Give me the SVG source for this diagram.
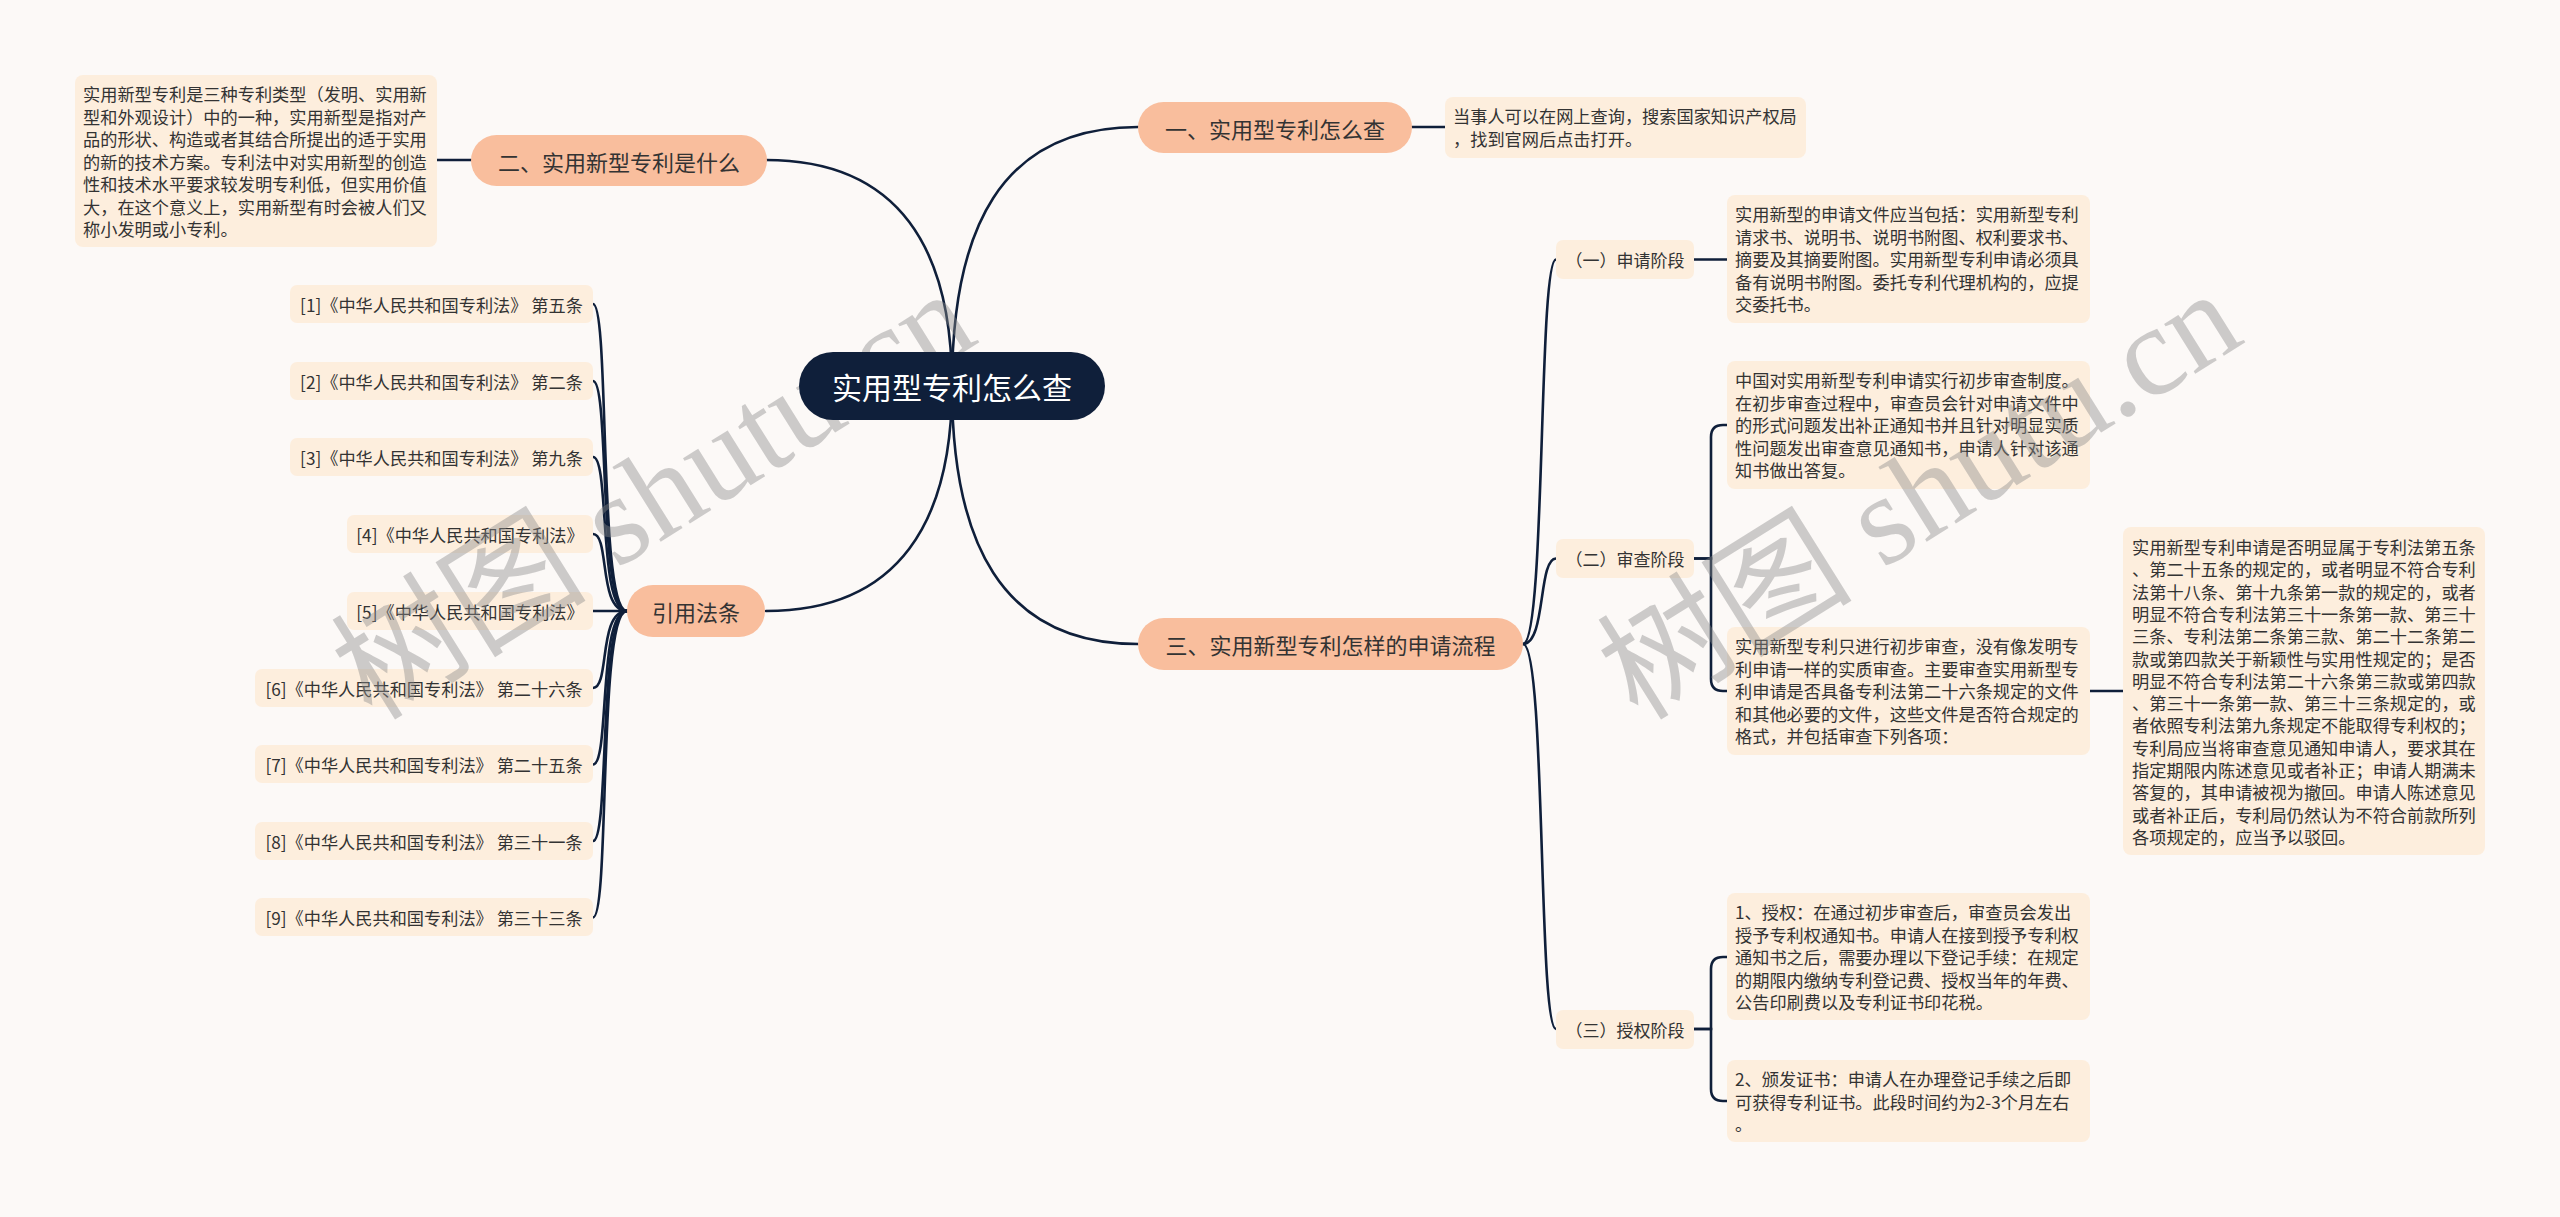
<svg xmlns="http://www.w3.org/2000/svg" width="2560" height="1217" viewBox="0 0 2560 1217">
<style>
.bg{fill:#fcf9f7}
.main{fill:#f9be9d}
.box{fill:#fdeedd}
.center{fill:#0f1f3a}
.ln{fill:none;stroke:#0f1f3a;stroke-width:2.6;stroke-linecap:round}
text{font-family:"Noto Sans CJK SC","Noto Sans",sans-serif;fill:#333}
.t-main{font-size:22px;text-anchor:middle;dominant-baseline:central}
.t-center{font-size:30px;fill:#ffffff;text-anchor:middle;dominant-baseline:central}
.t-sub{font-size:17px;text-anchor:middle;dominant-baseline:central}
.t-cite{font-size:17.2px;text-anchor:middle;dominant-baseline:central}
.t-body{font-size:17.2px}
.wm{font-family:"Liberation Serif","Noto Sans CJK SC",serif;font-size:128px;fill:#8a8a8a;fill-opacity:0.42}
</style>
<rect class="bg" x="0" y="0" width="2560" height="1217"/>

<g id="connectors">
  <path class="ln" d="M952,386 C952,230 1000,127 1138,127"/>
  <path class="ln" d="M952,386 C952,540 1000,644 1138,644"/>
  <path class="ln" d="M952,386 C952,250 900,160 766,160"/>
  <path class="ln" d="M952,386 C952,520 900,611 766,611"/>
  <path class="ln" d="M1412,127 H1445"/>
  <path class="ln" d="M437,160 H471"/>
  <path class="ln" d="M1523,644 C1546,644 1538,259.5 1556,259.5"/>
  <path class="ln" d="M1523,644 C1546,644 1538,558.5 1556,558.5"/>
  <path class="ln" d="M1523,644 C1546,644 1538,1029 1556,1029"/>
  <path class="ln" d="M1694,259.5 H1727"/>
  <path class="ln" d="M1694,558.5 H1711 V437 Q1711,425 1723,425 H1727"/>
  <path class="ln" d="M1694,558.5 H1711 V679 Q1711,691 1723,691 H1727"/>
  <path class="ln" d="M2090,691 H2123"/>
  <path class="ln" d="M1694,1029 H1711 V969 Q1711,957 1723,957 H1727"/>
  <path class="ln" d="M1694,1029 H1711 V1089 Q1711,1101 1723,1101 H1727"/>
  <path class="ln" d="M627,611 C598,611 610,304 593,304"/>
  <path class="ln" d="M627,611 C598,611 610,381 593,381"/>
  <path class="ln" d="M627,611 C598,611 610,457 593,457"/>
  <path class="ln" d="M627,611 C598,611 610,534 593,534"/>
  <path class="ln" d="M627,611 H593"/>
  <path class="ln" d="M627,611 C598,611 610,688 593,688"/>
  <path class="ln" d="M627,611 C598,611 610,764.5 593,764.5"/>
  <path class="ln" d="M627,611 C598,611 610,841 593,841"/>
  <path class="ln" d="M627,611 C598,611 610,917.5 593,917.5"/>
</g>

<g id="n-1">
  <rect class="main" x="1138" y="102" width="274" height="51" rx="25.5"/>
  <text class="t-main" x="1275" y="127.5">一、实用型专利怎么查</text>
</g>
<g id="n-1-text">
  <rect class="box" x="1445" y="97" width="361" height="61" rx="8"/>
  <text class="t-body" x="1453" y="123">当事人可以在网上查询，搜索国家知识产权局</text>
  <text class="t-body" x="1453" y="146">，找到官网后点击打开。</text>
</g>

<g id="n-2">
  <rect class="main" x="471" y="135" width="296" height="51" rx="25.5"/>
  <text class="t-main" x="619" y="160.5">二、实用新型专利是什么</text>
</g>
<g id="n-2-text">
  <rect class="box" x="75" y="75" width="362" height="172" rx="8"/>
  <text class="t-body" x="83" y="101">实用新型专利是三种专利类型（发明、实用新</text>
  <text class="t-body" x="83" y="123.5">型和外观设计）中的一种，实用新型是指对产</text>
  <text class="t-body" x="83" y="146">品的形状、构造或者其结合所提出的适于实用</text>
  <text class="t-body" x="83" y="168.5">的新的技术方案。专利法中对实用新型的创造</text>
  <text class="t-body" x="83" y="191">性和技术水平要求较发明专利低，但实用价值</text>
  <text class="t-body" x="83" y="213.5">大，在这个意义上，实用新型有时会被人们又</text>
  <text class="t-body" x="83" y="236">称小发明或小专利。</text>
</g>

<g id="n-3">
  <rect class="main" x="1138" y="618" width="385" height="52" rx="26"/>
  <text class="t-main" x="1330.5" y="644">三、实用新型专利怎样的申请流程</text>
</g>

<g id="n-3-1">
  <rect class="box" x="1556" y="240" width="138" height="39" rx="7"/>
  <text class="t-sub" x="1625" y="259.5">（一）申请阶段</text>
</g>
<g id="n-3-1-text">
  <rect class="box" x="1727" y="195" width="363" height="128" rx="8"/>
  <text class="t-body" x="1735" y="221">实用新型的申请文件应当包括：实用新型专利</text>
  <text class="t-body" x="1735" y="243.5">请求书、说明书、说明书附图、权利要求书、</text>
  <text class="t-body" x="1735" y="266">摘要及其摘要附图。实用新型专利申请必须具</text>
  <text class="t-body" x="1735" y="288.5">备有说明书附图。委托专利代理机构的，应提</text>
  <text class="t-body" x="1735" y="311">交委托书。</text>
</g>

<g id="n-3-2">
  <rect class="box" x="1556" y="539" width="138" height="39" rx="7"/>
  <text class="t-sub" x="1625" y="558.5">（二）审查阶段</text>
</g>
<g id="n-3-2-a">
  <rect class="box" x="1727" y="361" width="363" height="128" rx="8"/>
  <text class="t-body" x="1735" y="387">中国对实用新型专利申请实行初步审查制度。</text>
  <text class="t-body" x="1735" y="409.5">在初步审查过程中，审查员会针对申请文件中</text>
  <text class="t-body" x="1735" y="432">的形式问题发出补正通知书并且针对明显实质</text>
  <text class="t-body" x="1735" y="454.5">性问题发出审查意见通知书，申请人针对该通</text>
  <text class="t-body" x="1735" y="477">知书做出答复。</text>
</g>
<g id="n-3-2-b">
  <rect class="box" x="1727" y="627" width="363" height="128" rx="8"/>
  <text class="t-body" x="1735" y="653">实用新型专利只进行初步审查，没有像发明专</text>
  <text class="t-body" x="1735" y="675.5">利申请一样的实质审查。主要审查实用新型专</text>
  <text class="t-body" x="1735" y="698">利申请是否具备专利法第二十六条规定的文件</text>
  <text class="t-body" x="1735" y="720.5">和其他必要的文件，这些文件是否符合规定的</text>
  <text class="t-body" x="1735" y="743">格式，并包括审查下列各项：</text>
</g>
<g id="n-3-2-b-1">
  <rect class="box" x="2123" y="527" width="362" height="328" rx="8"/>
  <text class="t-body" x="2132" y="554">实用新型专利申请是否明显属于专利法第五条</text>
  <text class="t-body" x="2132" y="576.3">、第二十五条的规定的，或者明显不符合专利</text>
  <text class="t-body" x="2132" y="598.6">法第十八条、第十九条第一款的规定的，或者</text>
  <text class="t-body" x="2132" y="620.9">明显不符合专利法第三十一条第一款、第三十</text>
  <text class="t-body" x="2132" y="643.2">三条、专利法第二条第三款、第二十二条第二</text>
  <text class="t-body" x="2132" y="665.5">款或第四款关于新颖性与实用性规定的；是否</text>
  <text class="t-body" x="2132" y="687.8">明显不符合专利法第二十六条第三款或第四款</text>
  <text class="t-body" x="2132" y="710.1">、第三十一条第一款、第三十三条规定的，或</text>
  <text class="t-body" x="2132" y="732.4">者依照专利法第九条规定不能取得专利权的；</text>
  <text class="t-body" x="2132" y="754.7">专利局应当将审查意见通知申请人，要求其在</text>
  <text class="t-body" x="2132" y="777">指定期限内陈述意见或者补正；申请人期满未</text>
  <text class="t-body" x="2132" y="799.3">答复的，其申请被视为撤回。申请人陈述意见</text>
  <text class="t-body" x="2132" y="821.6">或者补正后，专利局仍然认为不符合前款所列</text>
  <text class="t-body" x="2132" y="843.9">各项规定的，应当予以驳回。</text>
</g>

<g id="n-3-3">
  <rect class="box" x="1556" y="1010" width="138" height="39" rx="7"/>
  <text class="t-sub" x="1625" y="1029.5">（三）授权阶段</text>
</g>
<g id="n-3-3-a">
  <rect class="box" x="1727" y="893" width="363" height="127" rx="8"/>
  <text class="t-body" x="1735" y="919">1、授权：在通过初步审查后，审查员会发出</text>
  <text class="t-body" x="1735" y="941.5">授予专利权通知书。申请人在接到授予专利权</text>
  <text class="t-body" x="1735" y="964">通知书之后，需要办理以下登记手续：在规定</text>
  <text class="t-body" x="1735" y="986.5">的期限内缴纳专利登记费、授权当年的年费、</text>
  <text class="t-body" x="1735" y="1009">公告印刷费以及专利证书印花税。</text>
</g>
<g id="n-3-3-b">
  <rect class="box" x="1727" y="1060" width="363" height="82" rx="8"/>
  <text class="t-body" x="1735" y="1086">2、颁发证书：申请人在办理登记手续之后即</text>
  <text class="t-body" x="1735" y="1108.5">可获得专利证书。此段时间约为2-3个月左右</text>
  <text class="t-body" x="1735" y="1131">。</text>
</g>

<g id="n-4">
  <rect class="main" x="627" y="585" width="138" height="52" rx="26"/>
  <text class="t-main" x="696" y="611">引用法条</text>
</g>
<g id="c-1"><rect class="box" x="290" y="285" width="303" height="38" rx="7"/><text class="t-cite" x="441.5" y="304">[1]《中华人民共和国专利法》 第五条</text></g>
<g id="c-2"><rect class="box" x="290" y="362" width="303" height="38" rx="7"/><text class="t-cite" x="441.5" y="381">[2]《中华人民共和国专利法》 第二条</text></g>
<g id="c-3"><rect class="box" x="290" y="438" width="303" height="38" rx="7"/><text class="t-cite" x="441.5" y="457">[3]《中华人民共和国专利法》 第九条</text></g>
<g id="c-4"><rect class="box" x="347" y="515" width="246" height="38" rx="7"/><text class="t-cite" x="470" y="534">[4]《中华人民共和国专利法》</text></g>
<g id="c-5"><rect class="box" x="347" y="592" width="246" height="38" rx="7"/><text class="t-cite" x="470" y="611">[5]《中华人民共和国专利法》</text></g>
<g id="c-6"><rect class="box" x="255" y="669" width="338" height="38" rx="7"/><text class="t-cite" x="424" y="688">[6]《中华人民共和国专利法》 第二十六条</text></g>
<g id="c-7"><rect class="box" x="255" y="745" width="338" height="38" rx="7"/><text class="t-cite" x="424" y="764.5">[7]《中华人民共和国专利法》 第二十五条</text></g>
<g id="c-8"><rect class="box" x="255" y="822" width="338" height="38" rx="7"/><text class="t-cite" x="424" y="841">[8]《中华人民共和国专利法》 第三十一条</text></g>
<g id="c-9"><rect class="box" x="255" y="898" width="338" height="38" rx="7"/><text class="t-cite" x="424" y="917.5">[9]《中华人民共和国专利法》 第三十三条</text></g>

<g id="watermark">
  <text class="wm" transform="translate(372,722) rotate(-32)">树图 shutu.cn</text>
  <text class="wm" transform="translate(1638,722) rotate(-32)">树图 shutu.cn</text>
</g>

<g id="n-center">
  <rect class="center" x="799" y="352" width="306" height="68" rx="34"/>
  <text class="t-center" x="952" y="386">实用型专利怎么查</text>
</g>
</svg>
